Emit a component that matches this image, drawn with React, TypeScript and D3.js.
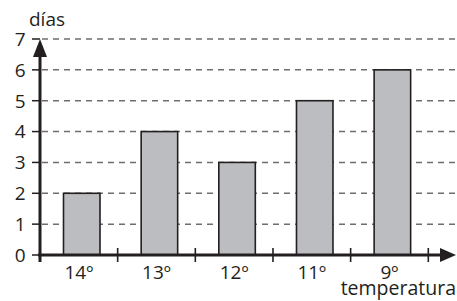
import * as React from "react";
import * as d3 from "d3";

const categories = ["14º", "13º", "12º", "11º", "9º"];
const days = [2, 4, 3, 5, 6];
const yTicks = [0, 1, 2, 3, 4, 5, 6, 7];

const W = 457;
const H = 301;
const FONT = "'Open Sans', sans-serif";

export default function App() {
  const x = d3.scaleBand<string>().domain(categories).range([40, 428.3]).padding(0);
  const y = d3.scaleLinear().domain([0, 7]).range([255, 39]);
  const step = x.step();
  const barOff = 23.5;
  const barW = 36.5;
  const ink = "#231f20";

  return (
    <svg width={W} height={H} style={{ position: "absolute", left: 0, top: 0 }} fontFamily={FONT}>
      {/* dashed grid */}
      {yTicks.filter((t) => t > 0).map((t) => (
        <g key={`g-${t}`}>
          <line x1={42} x2={W} y1={y(t)} y2={y(t)} stroke="#6e6e6e" strokeWidth={1.5} strokeDasharray="6,5" />
          <line x1={32} x2={40} y1={y(t)} y2={y(t)} stroke={ink} strokeWidth={1.5} />
        </g>
      ))}
      <line x1={32} x2={40} y1={y(0)} y2={y(0)} stroke={ink} strokeWidth={1.5} />

      {/* bars */}
      {categories.map((c, i) => (
        <rect
          key={c}
          x={(x(c) ?? 0) + barOff}
          y={y(days[i])}
          width={barW}
          height={y(0) - y(days[i])}
          fill="#bcbdc0"
          stroke={ink}
          strokeWidth={1.6}
        />
      ))}

      {/* x axis */}
      <line x1={38} x2={446} y1={y(0)} y2={y(0)} stroke={ink} strokeWidth={3} />
      <path d={`M${W - 1},${y(0)} L440,${y(0) - 7} L440,${y(0) + 7} Z`} fill={ink} />
      {categories.map((c) => (
        <line key={`t-${c}`} x1={(x(c) ?? 0) + step} x2={(x(c) ?? 0) + step} y1={y(0) - 7} y2={y(0) + 7} stroke={ink} strokeWidth={1.6} />
      ))}
      {categories.map((c) => (
        <text key={`l-${c}`} x={(x(c) ?? 0) + step / 2} y={279} textAnchor="middle" fontSize={19} fill={ink}>
          {c}
        </text>
      ))}
      <text x={456} y={295} textAnchor="end" fontSize={19.5} fill={ink}>temperatura</text>

      {/* y axis */}
      <line x1={40} x2={40} y1={y(0) + 7} y2={52} stroke={ink} strokeWidth={3} />
      <path d={`M40,${y(7)} L33,57 L47,57 Z`} fill={ink} />
      {yTicks.map((t) => (
        <text key={`y-${t}`} x={25.5} y={y(t)} dy="0.36em" textAnchor="end" fontSize={19} fill={ink}>
          {t}
        </text>
      ))}
      <text x={29} y={26} fontSize={19} fill={ink}>días</text>
    </svg>
  );
}
